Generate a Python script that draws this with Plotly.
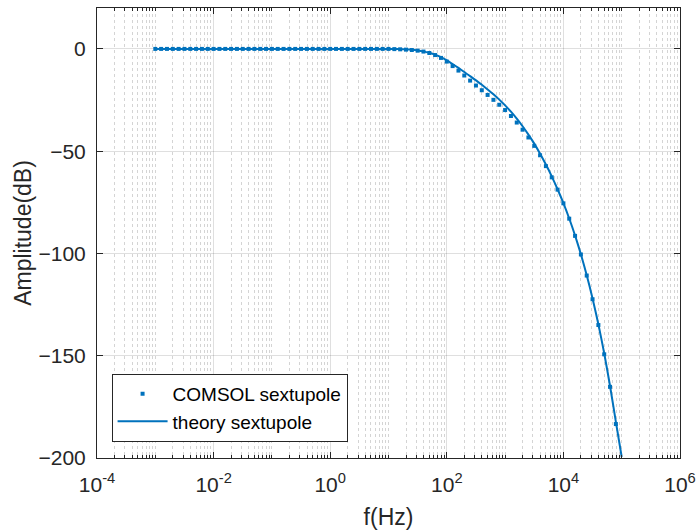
import numpy as np
import plotly.graph_objects as go

# ---- data ----
# COMSOL sample exponents: log10(f) from -3.0 to 4.9 in steps of 0.1
comsol_logf = np.round(np.arange(-3.0, 4.95, 0.1), 1)
comsol_db = [0.0] * 40 + [
    0.0, -0.1, -0.2, -0.35, -0.55, -0.85, -1.3, -2.0, -3.0, -4.4,
    -6.2, -8.4, -10.6, -13.0, -15.5, -17.9, -20.2, -22.5, -24.9, -27.3,
    -29.9, -32.8, -36.0, -39.5, -43.3, -47.4, -52.0, -57.3, -62.8, -68.8,
    -75.5, -83.0, -91.4, -100.5, -110.8, -122.4, -135.0, -149.3, -165.2, -183.4,
]
theory_logf = np.round(np.arange(-3.0, 5.05, 0.1), 1)
theory_db = [0.0] * 40 + [
    0.0, -0.05, -0.12, -0.25, -0.45, -0.75, -1.2, -1.9, -2.8, -4.0,
    -5.6, -7.4, -9.3, -11.3, -13.3, -15.4, -17.5, -19.8, -22.2, -24.8,
    -27.6, -30.7, -34.1, -37.8, -41.9, -46.3, -51.2, -56.5, -62.3, -68.6,
    -75.4, -82.9, -91.2, -100.4, -110.6, -122.0, -134.6, -148.8, -164.8, -182.3,
    -199.5,
]
x_tick_vals = [1e-4, 1e-2, 1e0, 1e2, 1e4, 1e6]
x_tick_text = ["10<sup>-4</sup>", "10<sup>-2</sup>", "10<sup>0</sup>",
               "10<sup>2</sup>", "10<sup>4</sup>", "10<sup>6</sup>"]
y_tick_vals = [-200, -150, -100, -50, 0]

comsol_f = 10.0 ** comsol_logf
theory_f = 10.0 ** theory_logf

minor_vals = []
for k in range(-4, 6):
    for m in range(1, 10):
        if m == 1 and k % 2 == 0:
            continue
        minor_vals.append(m * 10.0 ** k)

BLUE = "#0072BD"
AX = "#262626"
FONT = "Liberation Sans, Arial, Helvetica, sans-serif"

fig = go.Figure()
fig.add_trace(go.Scatter(
    x=comsol_f, y=comsol_db, mode="markers", name="COMSOL sextupole",
    marker=dict(symbol="square", size=4, color=BLUE, line=dict(width=0)),
))
fig.add_trace(go.Scatter(
    x=theory_f, y=theory_db, mode="lines", name="theory sextupole",
    line=dict(color=BLUE, width=2, shape="spline", smoothing=0.6),
))

fig.update_layout(
    width=697, height=530,
    margin=dict(l=97, r=17, t=8, b=72),
    paper_bgcolor="white", plot_bgcolor="white",
    font=dict(family=FONT, color=AX),
    showlegend=True,
    legend=dict(
        x=0.025, y=0.036, xanchor="left", yanchor="bottom",
        bgcolor="white", bordercolor=AX, borderwidth=1,
        font=dict(size=19, color="#000000"),
        tracegroupgap=0, itemwidth=50,
    ),
)

fig.update_xaxes(
    type="log", range=[-4, 6],
    tickvals=x_tick_vals, ticktext=x_tick_text,
    ticks="inside", ticklen=6, tickwidth=1, tickcolor=AX,
    showline=True, linecolor=AX, linewidth=1, mirror="allticks",
    showgrid=True, gridcolor="rgba(38,38,38,0.15)", gridwidth=1,
    zeroline=False,
    tickfont=dict(size=21, color=AX),
    ticklabelstandoff=8,
    minor=dict(tickvals=minor_vals, ticks="inside", ticklen=3, tickcolor=AX,
               showgrid=True, gridcolor="rgba(38,38,38,0.2)", griddash="dot",
               gridwidth=1),
    title=dict(text="f(Hz)", font=dict(size=23, color=AX), standoff=13),
    automargin=False,
)
fig.update_yaxes(
    range=[-200, 20],
    tickvals=y_tick_vals,
    ticks="inside", ticklen=6, tickwidth=1, tickcolor=AX,
    showline=True, linecolor=AX, linewidth=1, mirror="allticks",
    showgrid=True, gridcolor="rgba(38,38,38,0.15)", gridwidth=1,
    zeroline=False,
    tickfont=dict(size=21, color=AX),
    ticklabelstandoff=6,
    title=dict(text="Amplitude(dB)", font=dict(size=23, color=AX), standoff=0),
    automargin=False,
)

fig.write_html("out.html")
